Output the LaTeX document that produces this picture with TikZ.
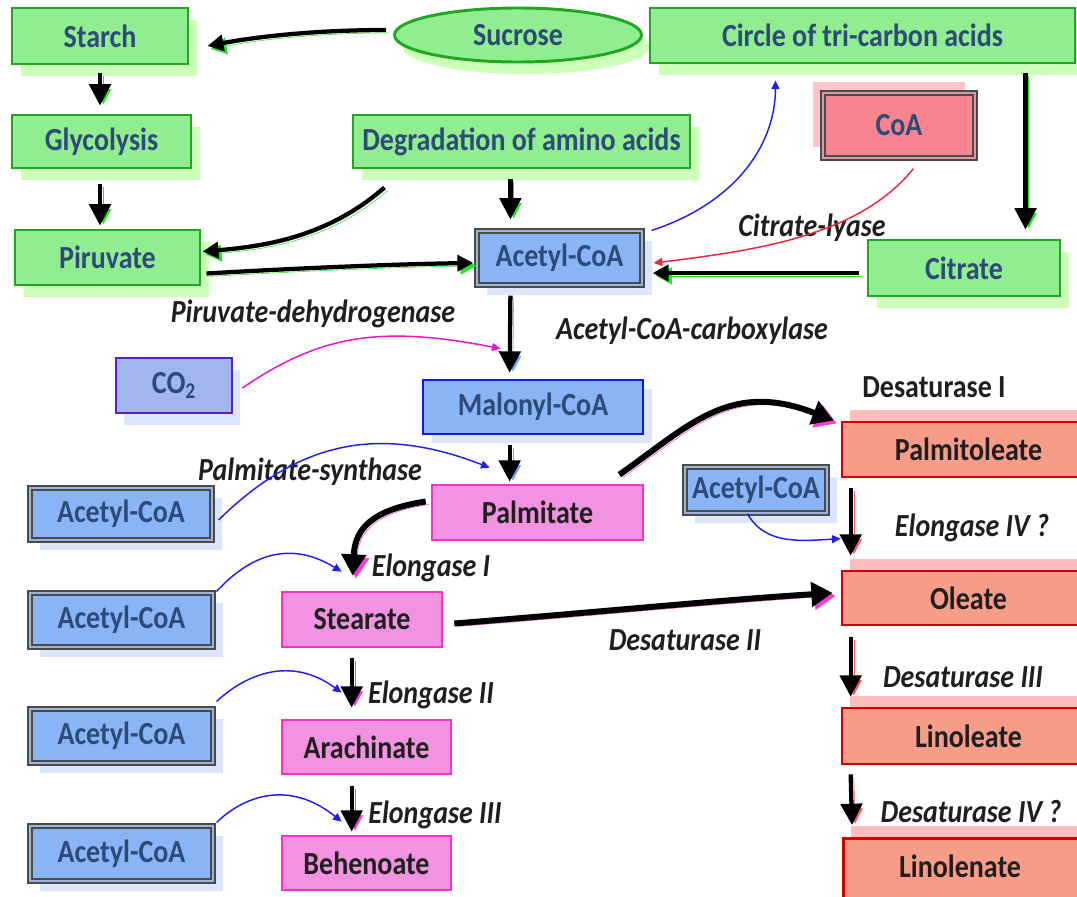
\documentclass[tikz,border=0pt]{standalone}
\usepackage{fontspec}
\setmainfont{Carlito}
\usetikzlibrary{arrows.meta,shadows,shapes.geometric,calc}
\definecolor{gfill}{HTML}{90EE90}
\definecolor{gline}{HTML}{1FA81F}
\definecolor{gshad}{HTML}{CCFFB8}
\definecolor{tblue}{HTML}{2E4A78}
\definecolor{bfill}{HTML}{89B5F7}
\definecolor{bgap}{HTML}{9DB3D9}
\definecolor{bshad}{HTML}{DCE6FA}
\definecolor{dgray}{HTML}{4A4A4A}
\definecolor{pfill}{HTML}{F293E2}
\definecolor{pline}{HTML}{FF2EC8}
\definecolor{rfill}{HTML}{F89C8A}
\definecolor{rline}{HTML}{D40000}
\definecolor{rshad}{HTML}{FFBDBD}
\definecolor{cfill}{HTML}{F7848F}
\definecolor{cgap}{HTML}{D99AA0}
\definecolor{cshad}{HTML}{FFC4C8}
\definecolor{cotwofill}{HTML}{A3B5EE}
\definecolor{cotwoline}{HTML}{5B1FC8}
\definecolor{mline}{HTML}{1414F0}
\definecolor{ashg}{HTML}{22E622}
\definecolor{ashm}{HTML}{FF3CD2}
\definecolor{ashb}{HTML}{6E9CFF}
\definecolor{ashr}{HTML}{FF5A5A}
\definecolor{thinblue}{HTML}{1E1EF5}
\definecolor{thinred}{HTML}{F5203C}
\definecolor{thinmag}{HTML}{E614D2}
\newcommand\T[1]{\scalebox{1}[1.15]{#1}}
\newcommand\mybox[7]{\node[#1, minimum width={(#5-#3)*0.75pt}, minimum height={(#6-#4)*0.75pt}, inner sep=0pt] (#2) at ({(#3+#5)/2},{(#4+#6)/2}) {\T{#7}};}
\tikzset{
  gbox/.style={rectangle, draw=gline, line width=2.2pt, fill=gfill, text=tblue,
    drop shadow={shadow xshift=7pt, shadow yshift=-9pt, fill=gshad, opacity=1}},
  ellbox/.style={ellipse, draw=gline, line width=2.2pt, fill=gfill, text=tblue,
    drop shadow={shadow xshift=6pt, shadow yshift=-9pt, fill=gshad, opacity=1}},
  dbox/.style={rectangle, draw=dgray, line width=0.9pt, double=bgap, double distance=2.2pt, fill=bfill, text=tblue,
    drop shadow={shadow xshift=7.5pt, shadow yshift=-7.5pt, fill=bshad, opacity=1}},
  coabox/.style={rectangle, draw=dgray, line width=0.9pt, double=cgap, double distance=2.2pt, fill=cfill, text=tblue,
    drop shadow={shadow xshift=-7.5pt, shadow yshift=8pt, fill=cshad, opacity=1}},
  cobox/.style={rectangle, draw=cotwoline, line width=2pt, fill=cotwofill, text=tblue,
    drop shadow={shadow xshift=6pt, shadow yshift=-9pt, fill=bshad, opacity=1}},
  mbox/.style={rectangle, draw=mline, line width=2pt, fill=bfill, text=tblue,
    drop shadow={shadow xshift=7pt, shadow yshift=-7pt, fill=bshad, opacity=1}},
  pbox/.style={rectangle, draw=pline, line width=2pt, fill=pfill, text=black!88},
  rbox/.style={rectangle, draw=rline, line width=2pt, fill=rfill, text=black!88,
    drop shadow={shadow xshift=6pt, shadow yshift=9pt, fill=rshad, opacity=1}},
  lab/.style={font=\fontsize{21}{25}\selectfont\bfseries\itshape, text=black!88, inner sep=0pt},
  labup/.style={font=\fontsize{21}{25}\selectfont\bfseries, text=black!88, inner sep=0pt},
  thk/.style={line width=3.2pt, -{Triangle[width=16pt,length=16pt]}},
  thm/.style={line width=3.2pt, -{Triangle[width=12pt,length=12pt]}},
  thx/.style={line width=4.5pt, -{Triangle[width=18pt,length=16pt]}},
  sh/.style={preaction={draw=#1, transform canvas={shift={(2.4pt,-2.2pt)}}}},
  thin/.style={line width=1.1pt, -{Triangle[width=6pt,length=6.5pt]}}
}
\begin{document}
\begin{tikzpicture}[x=0.75pt,y=-0.75pt, font=\fontsize{21}{25}\selectfont\bfseries]
\useasboundingbox (0,0) rectangle (1077,896);
% nodes
\mybox{gbox}{starch}{12}{8}{188}{64}{Starch}
\node[ellbox, minimum width={247*0.75pt}, minimum height={54*0.75pt}, inner sep=0pt] (suc) at (518,35) {\T{Sucrose}};
\mybox{gbox}{circ}{650}{8}{1075}{63}{Circle of tri-carbon acids}
\mybox{gbox}{glyc}{12}{115}{191}{168}{Glycolysis}
\mybox{gbox}{degr}{353}{115}{690}{168}{Degradation of amino acids}
\mybox{coabox}{coa}{823}{93}{975}{158}{CoA}
\mybox{gbox}{piru}{15}{230}{200}{285}{Piruvate}
\mybox{dbox}{acet}{477}{231}{642}{285}{Acetyl-CoA}
\mybox{gbox}{citr}{868}{240}{1060}{296}{Citrate}
\mybox{cobox}{cotwo}{116}{358}{232}{413}{CO\textsubscript{2}}
\mybox{mbox}{malo}{423}{380}{643}{434}{Malonyl-CoA}
\mybox{rbox}{palo}{842}{422}{1095}{477}{Palmitoleate}
\mybox{dbox}{acone}{30}{488}{212}{540}{Acetyl-CoA}
\mybox{pbox}{palm}{432}{485}{643}{540}{Palmitate}
\mybox{dbox}{acr}{685}{467}{827}{513}{Acetyl-CoA}
\mybox{rbox}{olea}{842}{571}{1095}{625}{Oleate}
\mybox{dbox}{actwo}{30}{593}{213}{647}{Acetyl-CoA}
\mybox{pbox}{stea}{282}{592}{442}{647}{Stearate}
\mybox{dbox}{acthree}{30}{709}{213}{763}{Acetyl-CoA}
\mybox{pbox}{arac}{282}{720}{451}{774}{Arachinate}
\mybox{rbox}{lino}{842}{708}{1095}{764}{Linoleate}
\mybox{dbox}{acfour}{30}{826}{213}{881}{Acetyl-CoA}
\mybox{pbox}{behe}{282}{836}{451}{890}{Behenoate}
\node[rbox, minimum width={253*0.75pt}, minimum height={66*0.75pt}, inner sep=0pt, anchor=north west] (lnln) at (842,837) {};
\node[text=black!88, anchor=center] (lnlnt) at (960,866) {\T{Linolenate}};
% labels
\node[lab] (lpd) at (313,314) {\T{Piruvate-dehydrogenase}};
\node[lab] (lacc) at (692,331) {\T{Acetyl-CoA-carboxylase}};
\node[lab] (lcl) at (812,228) {\T{Citrate-lyase}};
\node[labup] (ldI) at (934,387) {\T{Desaturase I}};
\node[lab] (lps) at (310,472) {\T{Palmitate-synthase}};
\node[lab] (leIV) at (972,528) {\T{Elongase IV ?}};
\node[lab] (leI) at (431,568) {\T{Elongase I}};
\node[lab] (ldII) at (685,640) {\T{Desaturase II}};
\node[lab] (ldIII) at (963,677) {\T{Desaturase III}};
\node[lab] (leII) at (431,695) {\T{Elongase II}};
\node[lab] (leIII) at (435,815) {\T{Elongase III}};
\node[lab] (ldIV) at (971,812) {\T{Desaturase IV ?}};
% connectors (top, green shadows)
\draw[thm,sh=ashg] ($(suc.west)+(-7,-5)$) .. controls (320,30) and (260,36) .. ($(starch.east)+(18,10)$);
\draw[thk,sh=ashg] ($(starch.south)+(0,8)$) -- ($(starch.south|-glyc.north)+(0,-8)$);
\draw[thk,sh=ashg] ($(starch.south|-glyc.south)+(0,15)$) -- ($(starch.south|-piru.north)+(0,-3)$);
\draw[thm,sh=ashg] ($(degr.south west)+(33,18)$) .. controls (330,235) and (270,246) .. ($(piru.east)+(1,-6)$);
\draw[thm,sh=ashg] ($(piru.east)+(5,16)$) .. controls (300,268) and (400,264) .. ($(acet.west)+(-3,5)$);
\draw[thk,sh=ashg] ($(acet.north west)+(34,-51)$) -- ($(acet.north west)+(34,-11)$);
\draw[thm,sh=ashg] ($(citr.west)+(-8,5)$) -- ($(acet.east)+(10,15)$);
\draw[thk,sh=ashg] ($(circ.south west)+(377,9)$) -- ($(citr.north west)+(159,-9)$);
\draw[thin,draw=thinblue] ($(acet.north east)+(9,0)$) .. controls (730,205) and (775,150) .. ($(circ.south west)+(127,16)$);
\draw[thin,draw=thinred] ($(coa.south west)+(91,10)$) .. controls (860,235) and (760,250) .. ($(acet.east)+(11,5)$);
% middle
\draw[thk,sh=ashb] ($(acet.south west)+(34,10)$) -- ($(malo.north west)+(88,-6)$);
\draw[thin,draw=thinmag] ($(cotwo.east)+(9,2.5)$) .. controls (320,335) and (380,325) .. ($(malo.north west)+(79,-30)$);
\draw[thk,sh=ashb] ($(malo.south west)+(88,10)$) -- ($(palm.north west)+(79,-2)$);
\draw[thin,draw=thinblue] ($(acone.east)+(6,6)$) .. controls (300,440) and (380,425) .. ($(palm.north west)+(59,-16)$);
\draw[thx,sh=ashm] ($(palm.north east)+(-25,-9)$) .. controls (690,425) and (730,380) .. ($(palo.west)+(-7,-29)$);
\draw[thx,sh=ashm] ($(palm.west)+(-5,-11)$) .. controls (370,510) and (355,530) .. ($(stea.north west)+(72,-15)$);
\draw[thx,sh=ashm] ($(stea.east)+(11,4)$) .. controls (600,612) and (720,600) .. ($(olea.west)+(-8,-5)$);
\draw[thin,draw=thinblue] ($(acr.south west)+(63,0)$) .. controls (765,545) and (800,541) .. ($(olea.north west)+(0,-31)$);
\draw[thk,sh=ashr] ($(palo.south west)+(10,10)$) -- ($(olea.north west)+(10,-14)$);
\draw[thin,draw=thinblue] ($(actwo.north east)+(3,-1)$) .. controls (250,555) and (290,540) .. ($(stea.north west)+(61,-19)$);
\draw[thk,sh=ashm] ($(stea.south west)+(71,10)$) -- ($(arac.north west)+(71,-11)$);
\draw[thin,draw=thinblue] ($(acthree.north east)+(3,-7)$) .. controls (245,675) and (290,655) .. ($(arac.north west)+(61,-26)$);
\draw[thk,sh=ashm] ($(arac.south west)+(71,11)$) -- ($(behe.north west)+(71,-3)$);
\draw[thin,draw=thinblue] ($(acfour.north east)+(3,-3)$) .. controls (245,795) and (290,780) .. ($(behe.north west)+(61,-13)$);
\draw[thk,sh=ashr] ($(olea.south west)+(10,11)$) -- ($(lino.north west)+(10,-10)$);
\draw[thk,sh=ashr] ($(lino.south west)+(10,9)$) -- ($(lnln.north west)+(10,-12)$);
\end{tikzpicture}
\end{document}
